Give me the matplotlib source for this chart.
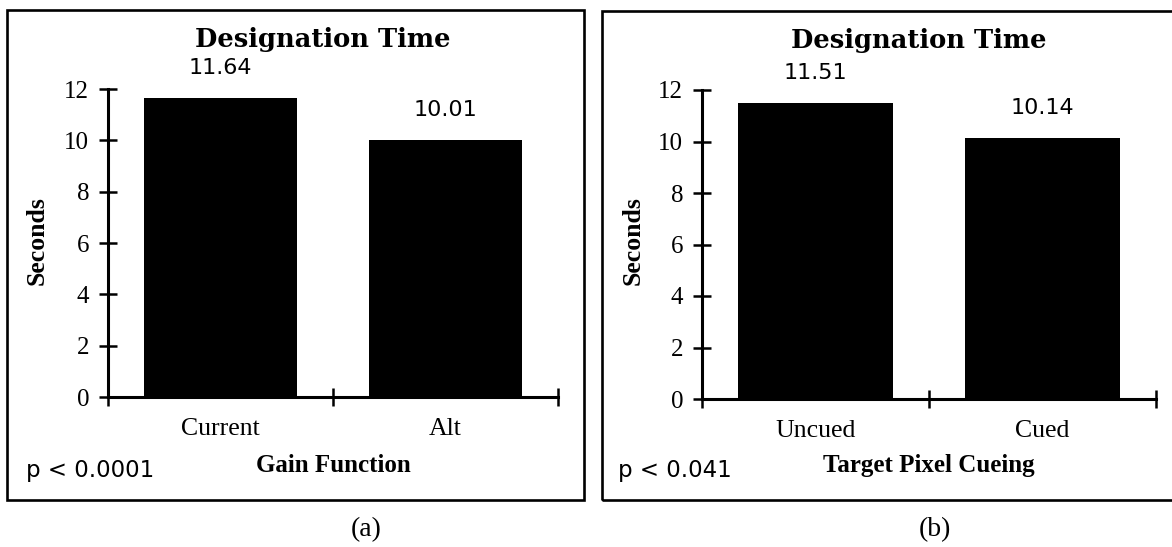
import matplotlib
matplotlib.use("Agg")
import matplotlib.pyplot as plt
from matplotlib.patches import Rectangle
from matplotlib.ticker import FixedLocator

W, H = 1172, 547
DPI = 100

title = "Designation Time"
ylabel = "Seconds"
yticks = [0, 2, 4, 6, 8, 10, 12]

cats_a = ["Current", "Alt"]
vals_a = [11.64, 10.01]
xlabel_a = "Gain Function"
p_a = "p < 0.0001"
tag_a = "(a)"

cats_b = ["Uncued", "Cued"]
vals_b = [11.51, 10.14]
xlabel_b = "Target Pixel Cueing"
p_b = "p < 0.041"
tag_b = "(b)"

SERIF = "Liberation Serif"
SANS = "DejaVu Sans"
TITLE_FONT = "DejaVu Serif"

fig = plt.figure(figsize=(W / DPI, H / DPI), dpi=DPI)


def fx(x):
    return x / W


def fy(y):
    return 1 - y / H


def panel(box, axbox, cats, vals, xlabel, ptxt, tag, tagx, ptx, ylab_x, title_y):
    bx0, by0, bx1, by1 = box
    fig.patches.append(Rectangle((fx(bx0), fy(by1)), (bx1 - bx0) / W, (by1 - by0) / H,
                                 transform=fig.transFigure, fill=False, lw=1.9,
                                 ec="black", clip_on=False))
    ax0, ytop, ax1, ybot = axbox
    ax = fig.add_axes([fx(ax0), fy(ybot), (ax1 - ax0) / W, (ybot - ytop) / H])
    ax.patch.set_alpha(0)
    x = list(range(len(cats)))
    ax.bar(x, vals, width=0.68, color="black", edgecolor="none", zorder=1)
    ax.set_xlim(-0.5, len(cats) - 0.5)
    ax.set_ylim(yticks[0], yticks[-1])
    for s in ("top", "right"):
        ax.spines[s].set_visible(False)
    for s in ("left", "bottom"):
        ax.spines[s].set_linewidth(2.2)
        ax.spines[s].set_zorder(3)
    ax.set_yticks(yticks)
    ax.set_yticklabels([str(t) for t in yticks], family=SERIF, fontsize=18)
    ax.tick_params(axis="y", direction="inout", length=13, width=1.8, pad=7)
    ax.set_xticks(x)
    ax.set_xticklabels(cats, family=SERIF, fontsize=18.5)
    ax.tick_params(axis="x", which="major", length=0, pad=15)
    ax.xaxis.set_minor_locator(FixedLocator([i - 0.5 for i in range(len(cats) + 1)]))
    ax.tick_params(axis="x", which="minor", direction="inout", length=13, width=1.8)
    for i, v in zip(x, vals):
        ax.annotate(f"{v:.2f}", xy=(i, v), xytext=(0, 24), textcoords="offset pixels",
                    ha="center", va="baseline", family=SANS, fontsize=16)
    cx = (ax0 + ax1) / 2
    fig.text(fx(cx - 10), fy(title_y), title, ha="center", va="baseline",
             family=TITLE_FONT, fontweight="bold", fontsize=18.5)
    fig.text(fx(ylab_x), fy(241), ylabel, rotation=90, ha="center", va="center",
             family=SERIF, fontweight="bold", fontsize=18.5)
    fig.text(fx(cx), fy(472), xlabel, ha="center", va="baseline",
             family=SERIF, fontweight="bold", fontsize=18)
    fig.text(fx(ptx), fy(477), ptxt, ha="left", va="baseline",
             family=SANS, fontsize=16.5)
    fig.text(fx(tagx), fy(530), tag, ha="center", va="center",
             family=SERIF, fontsize=20)
    return ax


panel((7, 10, 584, 500), (108, 89, 558, 397), cats_a, vals_a, xlabel_a, p_a, tag_a,
      366, 26, 37, 47)
panel((602, 11, 1185, 500), (702, 90, 1156, 399), cats_b, vals_b, xlabel_b, p_b, tag_b,
      935, 618, 633, 48)

fig.savefig("out.png", dpi=DPI)
